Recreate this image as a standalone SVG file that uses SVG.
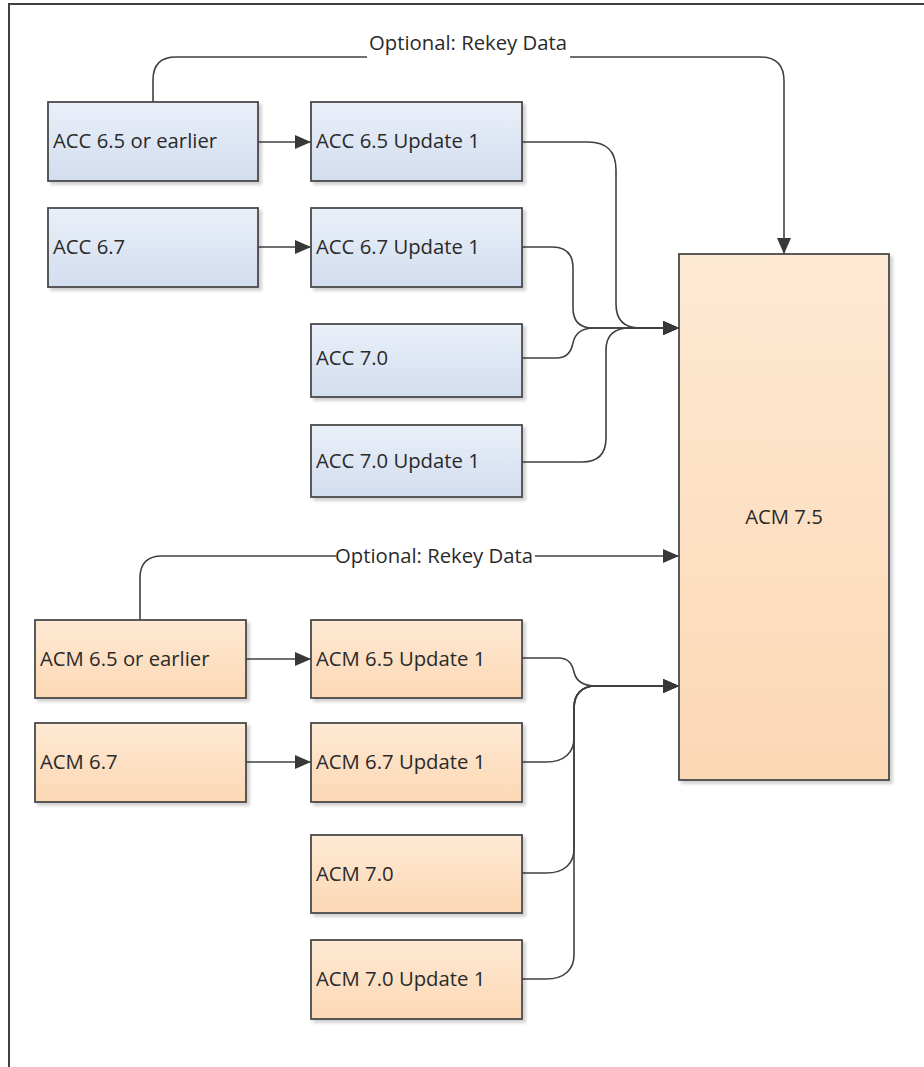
<svg xmlns="http://www.w3.org/2000/svg" width="924" height="1067" viewBox="0 0 924 1067">
<style>
.box{stroke:#4a4a4a;stroke-width:1.8;filter:url(#sh)}
.blue{fill:url(#gb)}
.orange{fill:url(#go)}
.t{font-family:"Open Sans","Noto Sans","Liberation Sans",sans-serif;font-size:20.3px;fill:#2a2a2a}
.c{fill:none;stroke:#404040;stroke-width:1.6}
.frame{stroke:#404040;stroke-width:2;fill:none}
</style>
<defs>
<linearGradient id="gb" x1="0" y1="0" x2="0" y2="1">
<stop offset="0" stop-color="#eaf0f9"/>
<stop offset="1" stop-color="#d2ddef"/>
</linearGradient>
<linearGradient id="go" x1="0" y1="0" x2="0" y2="1">
<stop offset="0" stop-color="#fee9d4"/>
<stop offset="1" stop-color="#fcd8b4"/>
</linearGradient>
<filter id="sh" x="-10%" y="-10%" width="130%" height="130%">
<feDropShadow dx="3" dy="3" stdDeviation="1.5" flood-color="#000" flood-opacity="0.18"/>
</filter>
<marker id="arr" viewBox="0 0 16 14" refX="16" refY="7" markerWidth="16" markerHeight="14" markerUnits="userSpaceOnUse" orient="auto">
<path d="M0,0 L16,7 L0,14 Z" fill="#383838"/>
</marker>
</defs>
<rect width="924" height="1067" fill="#fff"/>
<path class="frame" d="M9,1067 V4 H924"/>

<g id="connectors">
<path id="rekey-acc" class="c" marker-end="url(#arr)" d="M153,102 V80 Q153,57 176,57 H760 Q784,57 784,81 V254"/>
<rect x="367" y="34" width="203" height="24" fill="#fff"/>
<text class="t" x="369" y="50">Optional: Rekey Data</text>
<path id="rekey-acm" class="c" marker-end="url(#arr)" d="M140,620 V578 Q140,556 162,556 H679"/>
<rect x="336" y="544" width="199" height="24" fill="#fff"/>
<text class="t" x="335" y="563">Optional: Rekey Data</text>

<path class="c" marker-end="url(#arr)" d="M258,142 H311"/>
<path class="c" marker-end="url(#arr)" d="M258,247 H311"/>
<path class="c" marker-end="url(#arr)" d="M246,659 H311"/>
<path class="c" marker-end="url(#arr)" d="M246,762 H311"/>

<path class="c" marker-end="url(#arr)" d="M522,142 H588 Q616,142 616,170 V304 Q616,328 640,328 H679"/>
<path class="c" marker-end="url(#arr)" d="M522,247 H552 Q573,247 573,268 V308 Q573,328 593,328 H679"/>
<path class="c" marker-end="url(#arr)" d="M522,358 H556 C567,358 571,352 573,343 C575,333 582,328 594,328 H679"/>
<path class="c" marker-end="url(#arr)" d="M522,462 H582 Q606,462 606,438 V350 Q606,328 630,328 H679"/>

<path class="c" marker-end="url(#arr)" d="M522,658 H558 C569,658 572,664 574,672 C576,681 583,686 596,686 H679"/>
<path class="c" marker-end="url(#arr)" d="M522,762 H546 C565,762 574,752 574,738 V708 C574,695 581,686 596,686 H679"/>
<path class="c" marker-end="url(#arr)" d="M522,873 H546 C565,873 574,863 574,849 V708 C574,695 581,686 596,686 H679"/>
<path class="c" marker-end="url(#arr)" d="M522,979 H546 C565,979 574,969 574,955 V708 C574,695 581,686 596,686 H679"/>
</g>

<g id="acc65e"><rect class="box blue" x="48" y="102" width="210" height="79"/><text class="t" x="53" y="148">ACC 6.5 or earlier</text></g>
<g id="acc65u1"><rect class="box blue" x="311" y="102" width="211" height="79"/><text class="t" x="316" y="148">ACC 6.5 Update 1</text></g>
<g id="acc67"><rect class="box blue" x="48" y="208" width="210" height="79"/><text class="t" x="53" y="254">ACC 6.7</text></g>
<g id="acc67u1"><rect class="box blue" x="311" y="208" width="211" height="79"/><text class="t" x="316" y="254">ACC 6.7 Update 1</text></g>
<g id="acc70"><rect class="box blue" x="311" y="324" width="211" height="73"/><text class="t" x="316" y="365">ACC 7.0</text></g>
<g id="acc70u1"><rect class="box blue" x="311" y="425" width="211" height="72"/><text class="t" x="316" y="468">ACC 7.0 Update 1</text></g>

<g id="acm75"><rect class="box orange" x="679" y="254" width="210" height="526"/><text class="t" x="784" y="524" text-anchor="middle">ACM 7.5</text></g>

<g id="acm65e"><rect class="box orange" x="35" y="620" width="211" height="78"/><text class="t" x="40" y="666">ACM 6.5 or earlier</text></g>
<g id="acm65u1"><rect class="box orange" x="311" y="620" width="211" height="78"/><text class="t" x="316" y="666">ACM 6.5 Update 1</text></g>
<g id="acm67"><rect class="box orange" x="35" y="723" width="211" height="79"/><text class="t" x="40" y="769">ACM 6.7</text></g>
<g id="acm67u1"><rect class="box orange" x="311" y="723" width="211" height="79"/><text class="t" x="316" y="769">ACM 6.7 Update 1</text></g>
<g id="acm70"><rect class="box orange" x="311" y="835" width="211" height="78"/><text class="t" x="316" y="881">ACM 7.0</text></g>
<g id="acm70u1"><rect class="box orange" x="311" y="940" width="211" height="79"/><text class="t" x="316" y="986">ACM 7.0 Update 1</text></g>
</svg>
